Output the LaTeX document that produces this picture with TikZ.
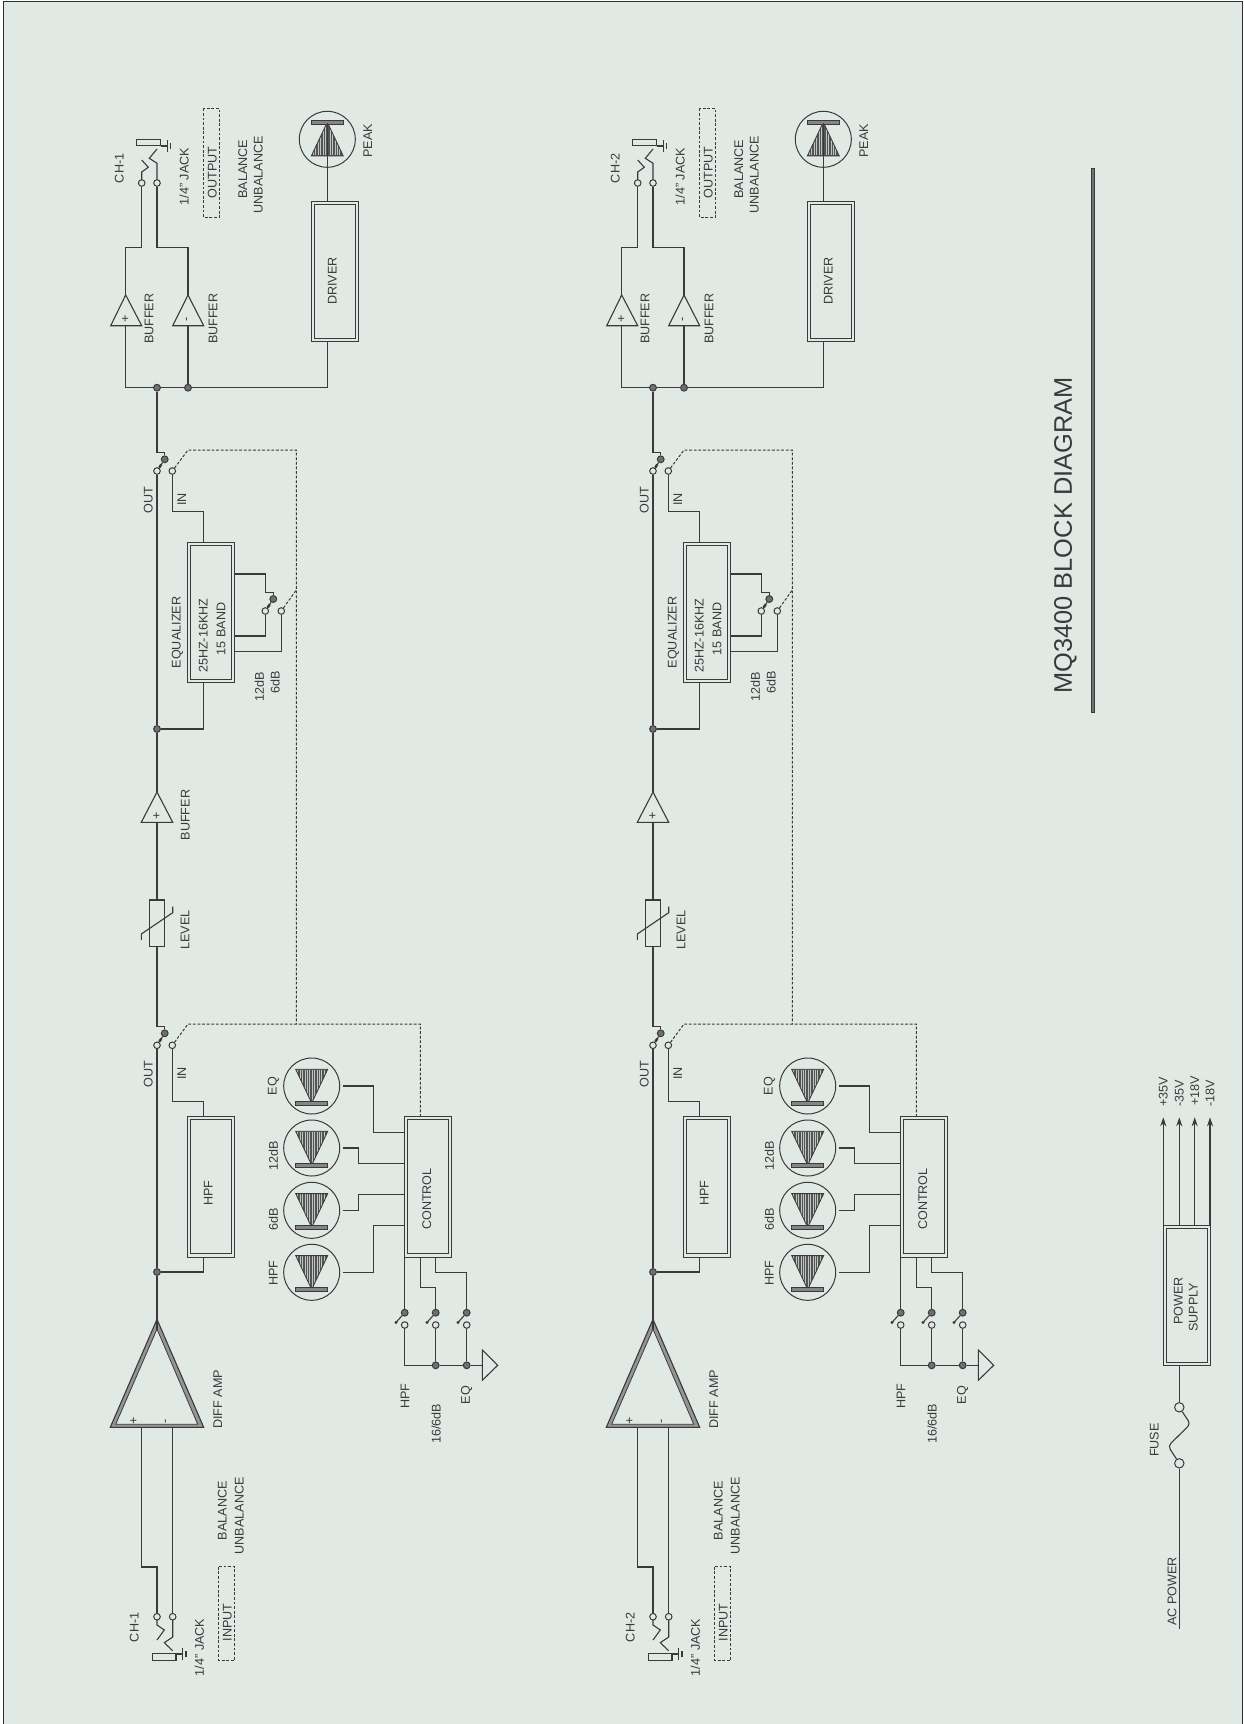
\documentclass[tikz,border=0pt]{standalone}
\usepackage{fontspec}
\setmainfont{Liberation Sans}
\usetikzlibrary{calc,arrows.meta}
\definecolor{panel}{HTML}{E1E9E4}
\definecolor{ink}{HTML}{3A3A3A}
\definecolor{markgray}{HTML}{707070}
\tikzset{
 wire/.style={draw=ink,line width=.55pt},
 ctrl/.style={draw=ink,line width=.5pt,dash pattern=on 1.4pt off .9pt},
 lbl/.style={rotate=90,inner sep=0pt,text=ink,font=\fontsize{6.3}{7.5}\selectfont},
 dbox/.style={draw=ink,line width=.5pt,inner sep=0pt,minimum width=23.35pt,minimum height=70.15pt,
  path picture={\draw[ink,line width=.5pt]
   ($(path picture bounding box.south west)+(1.5pt,1.6pt)$) rectangle
   ($(path picture bounding box.north east)-(1.5pt,1.6pt)$);}},
 term/.style={circle,draw=ink,line width=.5pt,fill=panel,inner sep=0pt,minimum size=3.3pt},
 jdot/.style={circle,draw=ink,line width=.5pt,fill=markgray,inner sep=0pt,minimum size=3.4pt},
 lamp/.style={circle,draw=ink,line width=.5pt,inner sep=0pt,minimum size=28pt,outer sep=1.5pt},
 ledmark/.pic={
  \begin{scope}
   \clip (-16,-16.7) -- (16,-16.7) -- (1,15) -- (-1,15) -- cycle;
   \fill[markgray!75!black] (-16,-16.7) rectangle (16,15);
   \foreach \sx in {-14,-11.6,...,14.5} \draw[panel!70!markgray,line width=.25pt] (\sx,-16) -- (\sx,15);
  \end{scope}
  \draw[wire,line width=.4pt] (-16,-16.7) -- (16,-16.7) -- (1,15) -- (-1,15) -- cycle;
  \draw[wire,line width=.3pt,fill=markgray!85] (-16,15.2) rectangle (16,19);
 }
}

\begin{document}
\begin{tikzpicture}[x=.5pt,y=-.5pt]
 \useasboundingbox (0,0) rectangle (1243,1724);
 \fill[white] (0,0) rectangle (1243,1724);
 \draw[line width=.7pt,draw=ink!80!black,fill=panel] (3.5,1.5) rectangle (1242.5,1740);

 \foreach \ch/\dx/\chno in {a/0/1,b/496/2} {
 \begin{scope}[shift={(\dx,0)}]
  \node[term] (\ch-outp) at (141.7,183) {};
  \node[term] (\ch-outm) at (157,183) {};
  \node[jdot] (\ch-j3) at (157,387.7) {};
  \node[jdot] (\ch-j4) at (188,387.7) {};
  \node[dbox] (\ch-drv) at (335,271.5) {};
  \node[lamp] (\ch-peak) at (327.3,139.3) {};
  \node[jdot] (\ch-sw1j) at (164.7,459.3) {};
  \node[term] (\ch-sw1o) at (157,471) {};
  \node[term] (\ch-sw1i) at (172.3,471) {};
  \node[dbox] (\ch-eq) at (211.3,612.7) {};
  \node[jdot] (\ch-sw3j) at (273.3,599) {};
  \node[term] (\ch-sw3o) at (265.3,611) {};
  \node[term] (\ch-sw3i) at (281.3,611) {};
  \node[jdot] (\ch-j2) at (157,729) {};
  \node[draw=ink,line width=.55pt,inner sep=0pt,minimum width=7.7pt,minimum height=23.3pt]
   (\ch-level) at (157,923.3) {};
  \node[jdot] (\ch-sw2j) at (164.7,1033.3) {};
  \node[term] (\ch-sw2o) at (157,1045.3) {};
  \node[term] (\ch-sw2i) at (172.3,1045.3) {};
  \node[dbox] (\ch-hpf) at (211.3,1186.9) {};
  \node[dbox] (\ch-ctrl) at (428,1186.9) {};
  \node[jdot] (\ch-j1) at (157,1272) {};
  \node[term] (\ch-inp) at (157,1616.7) {};
  \node[term] (\ch-inm) at (172.7,1616.7) {};
  \node[lamp] (\ch-led1) at (311.7,1086) {};
  \node[lamp] (\ch-led2) at (311.7,1148) {};
  \node[lamp] (\ch-led3) at (311.7,1210.3) {};
  \node[lamp] (\ch-led4) at (311.7,1272.3) {};
  \node[jdot] (\ch-j6) at (435.7,1365.3) {};
  \node[jdot] (\ch-j7) at (466.7,1365.3) {};
  \coordinate (\ch-gnd) at (482.3,1365.3);
  \coordinate (\ch-bufpo) at (125.7,295);
  \coordinate (\ch-bufpi) at (125.7,325.7);
  \coordinate (\ch-bufmo) at (188,295);
  \coordinate (\ch-bufmi) at (188,325.7);
  \coordinate (\ch-bufo) at (157,792);
  \coordinate (\ch-bufi) at (157,822.3);
  \coordinate (\ch-ampo) at (157,1329);
  \coordinate (\ch-ampp) at (141.7,1427.3);
  \coordinate (\ch-ampm) at (172.7,1427.3);
  \coordinate (\ch-dk1) at (188,450);
  \coordinate (\ch-dk2) at (296.3,450);
  \coordinate (\ch-dk3) at (188,1024);
  \coordinate (\ch-dk4) at (296.3,1024);
  \coordinate (\ch-dk5) at (420.3,1024);
  \coordinate (\ch-dk6) at (296.3,590);

  \draw[wire] (110.7,325.7) -- (\ch-bufpo) -- (141.7,325.7) -- cycle;
  \draw[wire] (172.7,325.7) -- (\ch-bufmo) -- (203.7,325.7) -- cycle;
  \draw[wire] (141.3,822.3) -- (\ch-bufo) -- (172.7,822.3) -- cycle;
  \draw[wire,fill=markgray!75] (110.3,1427.3) -- (157,1319.3) -- (203.7,1427.3) -- cycle;
  \draw[wire,line width=.4pt,fill=panel] (115.7,1424.3) -- (\ch-ampo) -- (197.7,1424.3) -- cycle;
  \draw[wire] (\ch-gnd) -- (482.3,1350) -- (497.7,1365.3) -- (482.3,1380.3) -- cycle;

  \pic[yscale=-1] at (\ch-peak) {ledmark};
  \pic at (\ch-led1) {ledmark};
  \pic at (\ch-led2) {ledmark};
  \pic at (\ch-led3) {ledmark};
  \pic at (\ch-led4) {ledmark};

  \draw[wire] (\ch-bufpo) |- (141.7,247.7) -- (\ch-outp);
  \draw[wire] (\ch-bufmo) |- (157,247.7) -- (\ch-outm);
  \draw[wire] (\ch-bufpi) |- (\ch-j3);
  \draw[wire] (\ch-j3) -- (\ch-j4);
  \draw[wire] (\ch-j4) -- (\ch-bufmi);
  \draw[wire] (\ch-j4) -| (327.3,0 |- \ch-drv.south);
  \draw[wire] (327.3,0 |- \ch-drv.north) -- (327.3,123);
  \draw[wire] (\ch-j3) |- (164.7,452.7) -- (\ch-sw1j);
  \draw[wire] (\ch-sw1o) -- (\ch-j2);
  \draw[wire] (\ch-sw1i) |- (203.3,511.7) -- (203.3,0 |- \ch-eq.north);
  \draw[wire] (\ch-j2) -| (203.3,0 |- \ch-eq.south);
  \draw[wire] (\ch-eq.east |- 0,574) -| (265.3,592.7) -| (\ch-sw3j);
  \draw[wire] (\ch-sw3o) |- (\ch-eq.east |- 0,636);
  \draw[wire] (\ch-sw3i) |- (\ch-eq.east |- 0,651.3);
  \draw[wire] (\ch-j2) -- (\ch-bufo);
  \draw[wire] (\ch-bufi) -- (\ch-level);
  \draw[wire] (\ch-level) |- (164.7,1026.7) -- (\ch-sw2j);
  \draw[wire] (\ch-sw2o) -- (\ch-j1);
  \draw[wire] (\ch-sw2i) |- (203.3,1101.3) -- (203.3,0 |- \ch-hpf.north);
  \draw[wire] (\ch-j1) -| (203.3,0 |- \ch-hpf.south);
  \draw[wire] (\ch-j1) -- (\ch-ampo);
  \draw[wire] (\ch-ampp) |- (157,1567) -- (\ch-inp);
  \draw[wire] (\ch-ampm) -- (\ch-inm);

  \draw[ctrl] (\ch-sw1i) -- (\ch-dk1) -- (\ch-dk2) -- (\ch-dk4);
  \draw[ctrl] (\ch-sw2i) -- (\ch-dk3) -- (\ch-dk5) -- (420.3,0 |- \ch-ctrl.north);
  \draw[ctrl] (\ch-sw3i) -- (\ch-dk6);

  \draw[wire] (\ch-sw1j) -- (\ch-sw1o);
  \draw[wire] (\ch-sw2j) -- (\ch-sw2o);
  \draw[wire] (\ch-sw3j) -- (\ch-sw3o);
  \draw[wire,line width=1.2pt] ($(\ch-sw1j)!.45!(\ch-sw1o)$) -- ($(\ch-sw1j)!.7!(\ch-sw1o)$);
  \draw[wire,line width=1.2pt] ($(\ch-sw2j)!.45!(\ch-sw2o)$) -- ($(\ch-sw2j)!.7!(\ch-sw2o)$);
  \draw[wire,line width=1.2pt] ($(\ch-sw3j)!.45!(\ch-sw3o)$) -- ($(\ch-sw3j)!.7!(\ch-sw3o)$);

  \draw[wire] (141.3,940) -- (141.3,934) -- (172.7,912.7) -- (172.7,906.7);

  \draw[wire] (141.7,179.7) -- (141.7,172) -- (148.3,167.3) -- (141.7,160);
  \draw[wire] (157,179.7) -- (157,163.3) -- (149.3,158.3) -- (157,149);
  \draw[wire,fill=panel] (136.3,139.7) rectangle (160.7,145.7);
  \draw[wire] (160.7,146) -- (167.3,146);
  \draw[wire] (167.3,140) -- (167.3,152);
  \draw[wire] (170.3,143) -- (170.3,149);
  \draw[wire] (157,1620) -- (157,1625) -- (164.3,1630) -- (157,1640);
  \draw[wire] (172.7,1620) -- (172.7,1637) -- (164.3,1642.7) -- (172.7,1650.7);
  \draw[wire,fill=panel] (152.3,1653.3) rectangle (176,1660.7);
  \draw[wire] (176,1654) -- (182.7,1654);
  \draw[wire] (182.7,1648.3) -- (182.7,1659.5);
  \draw[wire] (186,1651) -- (186,1657);

  \draw[ctrl] (203.3,108.3) rectangle (219.3,217.3);
  \draw[ctrl] (218.7,1566.7) rectangle (234.7,1660.3);

  \draw[wire] (\ch-led1.east) -| (373.7,1132.7) -- (\ch-ctrl.west |- 0,1132.7);
  \draw[wire] (\ch-led2.east) -| (358.3,1163.7) -- (\ch-ctrl.west |- 0,1163.7);
  \draw[wire] (\ch-led3.east) -| (358.3,1194.7) -- (\ch-ctrl.west |- 0,1194.7);
  \draw[wire] (\ch-led4.east) -| (373.7,1225.7) -- (\ch-ctrl.west |- 0,1225.7);

  \foreach \k/\sx in {1/404.7,2/435.7,3/466.7} {
   \node[jdot] (\ch-kj\k) at (\sx,1312.7) {};
   \node[term] (\ch-ko\k) at (\sx,1325) {};
   \coordinate (\ch-ka\k) at ($(\ch-kj\k)+(-8.7,9.7)$);
   \draw[wire] (\ch-kj\k) -- (\ch-ka\k);
   \fill[ink] (\ch-ka\k) circle (.8pt);
  }
  \draw[wire] (404.7,0 |- \ch-ctrl.south) -- (\ch-kj1);
  \draw[wire] (420.3,0 |- \ch-ctrl.south) |- (435.7,1287.7) -- (\ch-kj2);
  \draw[wire] (435.7,0 |- \ch-ctrl.south) |- (466.7,1272.3) -- (\ch-kj3);
  \draw[wire] (\ch-ko1) |- (\ch-j6);
  \draw[wire] (\ch-ko2) -- (\ch-j6);
  \draw[wire] (\ch-ko3) -- (\ch-j7);
  \draw[wire] (\ch-j6) -- (\ch-j7);
  \draw[wire] (\ch-j7) -- (\ch-gnd);

  \node[lbl] (\ch-tch) at (119.3,168.3) {CH-\chno};
  \node[lbl] (\ch-tjk) at (184,176.7) {1/4" JACK};
  \node[lbl] (\ch-tout) at (212.3,172.3) {OUTPUT};
  \node[lbl] (\ch-tbal) at (242.7,169) {BALANCE};
  \node[lbl] (\ch-tunb) at (258.3,174.7) {UNBALANCE};
  \node[lbl] (\ch-tbp) at (149,318.7) {BUFFER};
  \node[lbl] (\ch-tbm) at (213,318.7) {BUFFER};
  \node[lbl] (\ch-tdrv) at (332.3,281) {DRIVER};
  \node[lbl] (\ch-tpk) at (367.7,140.7) {PEAK};
  \node[lbl] (\ch-tout1) at (148.3,500) {OUT};
  \node[lbl] (\ch-tin1) at (181.7,499.3) {IN};
  \node[lbl] (\ch-teq) at (177.3,632.5) {EQUALIZER};
  \node[lbl] (\ch-tfr) at (203.3,635.8) {25HZ-16KHZ};
  \node[lbl] (\ch-tbd) at (221,628.8) {15 BAND};
  \node[lbl] (\ch-t12) at (259.3,686.7) {12dB};
  \node[lbl] (\ch-t6) at (275,682.3) {6dB};
  \node[lbl] (\ch-tlv) at (185,930) {LEVEL};
  \node[lbl] (\ch-tout2) at (148.3,1074) {OUT};
  \node[lbl] (\ch-tin2) at (181.7,1073.3) {IN};
  \node[lbl] (\ch-thp) at (208.3,1193.3) {HPF};
  \node[lbl] (\ch-tct) at (426.7,1199) {CONTROL};
  \node[lbl] (\ch-tl1) at (273.3,1086) {EQ};
  \node[lbl] (\ch-tl2) at (273.3,1156) {12dB};
  \node[lbl] (\ch-tl3) at (273.3,1219) {6dB};
  \node[lbl] (\ch-tl4) at (273.3,1273) {HPF};
  \node[lbl] (\ch-ts1) at (405,1396) {HPF};
  \node[lbl] (\ch-ts2) at (436,1424) {16/6dB};
  \node[lbl] (\ch-ts3) at (466.7,1395) {EQ};
  \node[lbl] (\ch-tda) at (217.7,1399.3) {DIFF AMP};
  \node[lbl] (\ch-tbi) at (222.3,1510.7) {BALANCE};
  \node[lbl] (\ch-tui) at (239.3,1515.7) {UNBALANCE};
  \node[lbl] (\ch-tci) at (134.3,1627.3) {CH-\chno};
  \node[lbl] (\ch-tji) at (199.3,1647.3) {1/4" JACK};
  \node[lbl] (\ch-tinp) at (227.3,1622.3) {INPUT};
  \node[lbl] (\ch-pp) at (125.7,319.3) {+};
  \node[lbl] (\ch-pm) at (188,319.3) {-};
  \node[lbl] (\ch-pb) at (157,815.7) {+};
  \node[lbl] (\ch-pa) at (134,1420.5) {+};
  \node[lbl] (\ch-ma) at (167,1421) {-};
 \end{scope}
 }

 \node[lbl] (tbuf) at (185.3,815) {BUFFER};

 \node[dbox] (pwr) at (1186.7,1295.3) {};
 \node[term,minimum size=4.7pt] (fu1) at (1179.3,1407.3) {};
 \node[term,minimum size=4.7pt] (fu2) at (1179.3,1463.3) {};
 \coordinate (acend) at (1179.3,1628.7);
 \draw[wire] (1179.3,0 |- pwr.south) -- (fu1);
 \draw[wire,rounded corners=2pt] (fu1) -- (1190.5,1424) -- (1168,1446) -- (fu2);
 \draw[wire] (fu2) -- (acend);
 \foreach \k/\sx/\ly/\txt in {1/1163.3/1092/+35V,2/1179.3/1093.3/-35V,3/1194.7/1090.7/+18V,4/1210/1093/-18V} {
  \coordinate (tip\k) at (\sx,1117.3);
  \draw[wire,-{Stealth[length=4.5pt,width=3pt]}] (\sx,0 |- pwr.north) -- (tip\k);
  \node[lbl] (tv\k) at (\sx,\ly) {\txt};
 }
 \node[lbl] (tpw1) at (1178.3,1301) {POWER};
 \node[lbl] (tpw2) at (1193.3,1307.3) {SUPPLY};
 \node[lbl] (tfu) at (1154.3,1440) {FUSE};
 \node[lbl] (tac) at (1172,1591.3) {AC POWER};

 \node[lbl,font=\fontsize{12.7}{14}\selectfont] (title) at (1065.5,535.5) {MQ3400 BLOCK DIAGRAM};
 \draw[wire,line width=.4pt,fill=markgray] (1091,168) rectangle (1094.7,712);
\end{tikzpicture}
\end{document}
